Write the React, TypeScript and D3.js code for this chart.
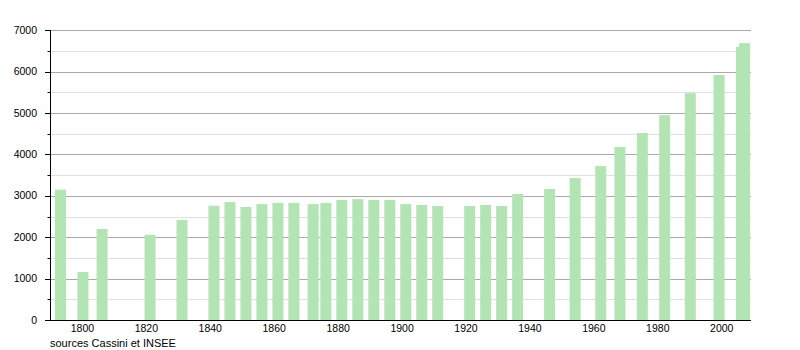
import React from "react";
import * as d3 from "d3";

const years = [1793, 1800, 1806, 1821, 1831, 1841, 1846, 1851, 1856, 1861, 1866, 1872, 1876, 1881, 1886, 1891, 1896, 1901, 1906, 1911, 1921, 1926, 1931, 1936, 1946, 1954, 1962, 1968, 1975, 1982, 1990, 1999, 2006, 2007];
const population = [3150, 1160, 2200, 2060, 2420, 2760, 2850, 2730, 2800, 2830, 2830, 2800, 2830, 2900, 2920, 2900, 2900, 2800, 2780, 2755, 2755, 2780, 2755, 3045, 3165, 3430, 3720, 4180, 4520, 4950, 5480, 5920, 6600, 6690];
const yMajorTicks = [0, 1000, 2000, 3000, 4000, 5000, 6000, 7000];
const yMinorTicks = [500, 1500, 2500, 3500, 4500, 5500, 6500];
const xTicks = [1800, 1820, 1840, 1860, 1880, 1900, 1920, 1940, 1960, 1980, 2000];
const sourceText = "sources Cassini et INSEE";

export default function App() {
  const W = 800, H = 350;
  const left = 50, right = 751, top = 30.3, bottom = 320;
  const x = d3.scaleLinear().domain([1789.7, 2009]).range([left, right]);
  const y = d3.scaleLinear().domain([0, 7000]).range([bottom, top]);
  const barW = 11;
  const font = "'Liberation Sans', Arial, sans-serif";
  return (
    <svg width={W} height={H} style={{ position: "absolute", left: 0, top: 0 }} fontFamily={font}>
      <rect width={W} height={H} fill="#fff" />
      {yMinorTicks.map((t) => (
        <g key={"m" + t}>
          <line x1={left} x2={right} y1={Math.round(y(t)) + 0.5} y2={Math.round(y(t)) + 0.5} stroke="#e0e0e0" />
          <line x1={left - 2.5} x2={left} y1={Math.round(y(t)) + 0.5} y2={Math.round(y(t)) + 0.5} stroke="#000" />
        </g>
      ))}
      {yMajorTicks.map((t) => (
        <g key={"M" + t}>
          {t > 0 && (
            <line x1={left} x2={right} y1={Math.round(y(t)) + 0.5} y2={Math.round(y(t)) + 0.5} stroke="#aaaaaa" />
          )}
          <line x1={left - 5} x2={left} y1={Math.round(y(t)) + 0.5} y2={Math.round(y(t)) + 0.5} stroke="#000" />
          <text x={37} y={y(t) + 3.5} fontSize={10.5} textAnchor="end" fill="#000">
            {t}
          </text>
        </g>
      ))}
      <g>
        {years.map((yr, i) => (
          <rect
            key={yr}
            x={x(yr) - barW / 2}
            y={y(population[i])}
            width={Math.min(barW, right - (x(yr) - barW / 2))}
            height={bottom - y(population[i])}
            fill="#b3e4b3"
          />
        ))}
      </g>
      <line x1={left + 0.5} x2={left + 0.5} y1={top - 0.5} y2={bottom + 1} stroke="#000" />
      <line x1={left} x2={right} y1={bottom + 0.5} y2={bottom + 0.5} stroke="#000" />
      {xTicks.map((t) => (
        <text key={"x" + t} x={x(t) - 0.5} y={332} fontSize={10.5} textAnchor="middle" fill="#000">
          {t}
        </text>
      ))}
      <text x={50} y={347} fontSize={11} fill="#000">
        {sourceText}
      </text>
    </svg>
  );
}
